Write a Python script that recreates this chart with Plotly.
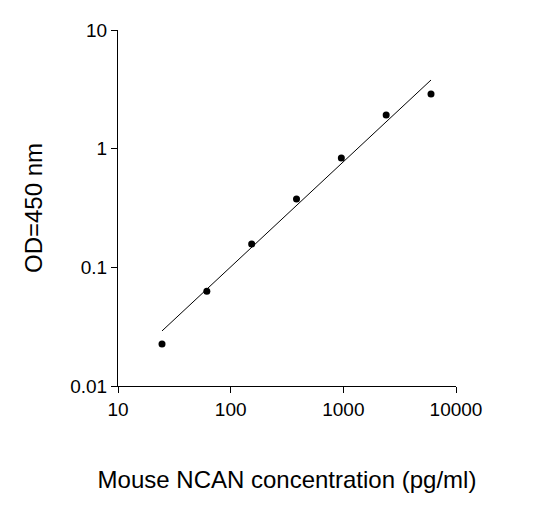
import plotly.graph_objects as go

conc = [24.58, 61.44, 153.6, 384, 960, 2400, 6000]
od = [0.0226, 0.063, 0.157, 0.377, 0.835, 1.92, 2.89]
fit_x = [24.58, 6000]
fit_y = [0.0291, 3.79]

fig = go.Figure()
fig.add_trace(go.Scatter(x=fit_x, y=fit_y, mode="lines",
                         line=dict(color="black", width=1)))
fig.add_trace(go.Scatter(x=conc, y=od, mode="markers",
                         marker=dict(color="black", size=7)))

axis = dict(type="log", showgrid=False, zeroline=False, showline=True,
            linecolor="black", linewidth=1, ticks="outside", ticklen=6,
            tickcolor="black", tickfont=dict(size=19, color="black"),
            mirror=False)
fig.update_xaxes(**axis, range=[1, 4], tickvals=[10, 100, 1000, 10000],
                 ticktext=["10", "100", "1000", "10000"],
                 title=dict(text="Mouse NCAN concentration (pg/ml)",
                            font=dict(size=24, color="black"), standoff=52))
fig.update_yaxes(**axis, range=[-2, 1], tickvals=[0.01, 0.1, 1, 10],
                 ticktext=["0.01", "0.1", "1", "10"],
                 title=dict(text="OD=450 nm", font=dict(size=24, color="black"),
                            standoff=20))
fig.update_layout(width=557, height=517, showlegend=False,
                  paper_bgcolor="white", plot_bgcolor="white",
                  font=dict(family="Liberation Sans, Arial"),
                  margin=dict(l=110, r=109, t=22, b=139))
fig.write_html("out.html")
